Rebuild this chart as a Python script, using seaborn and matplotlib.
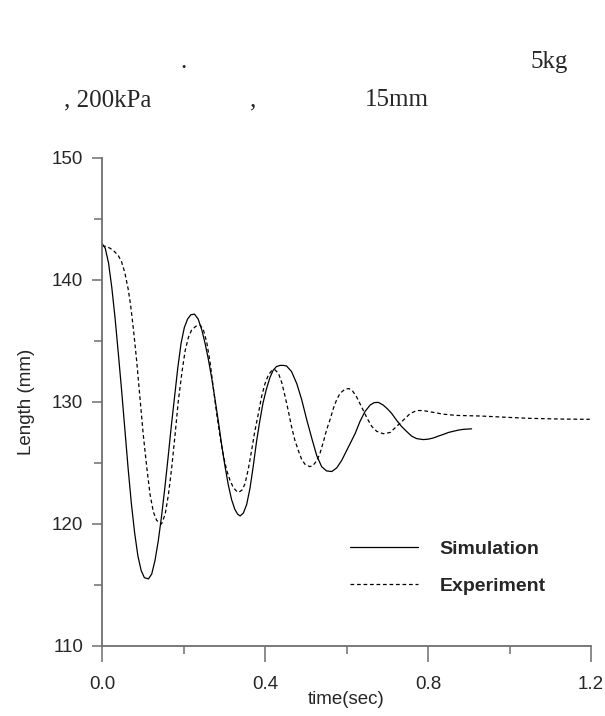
import numpy as np
import pandas as pd
import matplotlib
matplotlib.use("Agg")
import matplotlib.pyplot as plt
from matplotlib.lines import Line2D
from matplotlib.ticker import MultipleLocator
import seaborn as sns

# ---- data ----
sim_t = [0.0, 0.008, 0.016, 0.024, 0.032, 0.040, 0.048, 0.056, 0.064, 0.072, 0.080,
         0.088, 0.096, 0.104, 0.114, 0.122, 0.130, 0.138, 0.146, 0.154, 0.162, 0.170,
         0.178, 0.186, 0.194, 0.202, 0.210, 0.218, 0.227, 0.236, 0.245, 0.253, 0.261,
         0.269, 0.277, 0.286, 0.294, 0.302, 0.310, 0.318, 0.326, 0.333, 0.339, 0.347,
         0.355, 0.363, 0.371, 0.379, 0.387, 0.395, 0.403, 0.412, 0.420, 0.428, 0.437,
         0.445, 0.453, 0.465, 0.478, 0.490, 0.502, 0.515, 0.527, 0.539, 0.551, 0.564,
         0.576, 0.588, 0.600, 0.609, 0.621, 0.633, 0.645, 0.658, 0.668, 0.678, 0.690,
         0.700, 0.710, 0.723, 0.735, 0.747, 0.760, 0.772, 0.788, 0.800, 0.813, 0.825,
         0.838, 0.850, 0.862, 0.875, 0.887, 0.907]
sim_v = [143.0, 142.6, 141.4, 139.4, 136.9, 134.0, 131.0, 127.8, 124.6, 121.7, 119.3,
         117.4, 116.2, 115.6, 115.5, 115.9, 117.0, 118.6, 120.6, 122.9, 125.4, 128.0,
         130.4, 132.8, 134.8, 136.1, 136.8, 137.15, 137.2, 136.8, 135.9, 134.8, 133.5,
         132.0, 130.3, 128.3, 126.4, 124.7, 123.2, 122.0, 121.2, 120.8, 120.66, 120.9,
         121.6, 122.9, 124.7, 126.7, 128.4, 129.9, 131.0, 132.0, 132.6, 132.9, 133.0,
         133.0, 132.95, 132.5, 131.5, 130.2, 128.6, 127.0, 125.6, 124.7, 124.35, 124.3,
         124.6, 125.2, 126.0, 126.6, 127.4, 128.4, 129.2, 129.75, 129.95, 129.97, 129.75,
         129.45, 129.1, 128.5, 128.0, 127.6, 127.2, 127.0, 126.92, 126.95, 127.05, 127.2,
         127.35, 127.5, 127.6, 127.7, 127.76, 127.8]

exp_t = [0.0, 0.010, 0.020, 0.030, 0.040, 0.048, 0.056, 0.064, 0.070, 0.077, 0.085,
         0.093, 0.101, 0.110, 0.118, 0.126, 0.134, 0.146, 0.155, 0.163, 0.171, 0.179,
         0.187, 0.196, 0.204, 0.212, 0.220, 0.230, 0.241, 0.249, 0.257, 0.265, 0.273,
         0.282, 0.290, 0.298, 0.306, 0.314, 0.322, 0.330, 0.336, 0.344, 0.351, 0.359,
         0.367, 0.375, 0.384, 0.392, 0.400, 0.408, 0.416, 0.424, 0.433, 0.441, 0.449,
         0.457, 0.465, 0.473, 0.482, 0.490, 0.498, 0.510, 0.518, 0.527, 0.535, 0.543,
         0.551, 0.560, 0.568, 0.576, 0.584, 0.596, 0.606, 0.615, 0.625, 0.637, 0.650,
         0.662, 0.674, 0.690, 0.707, 0.723, 0.739, 0.756, 0.772, 0.788, 0.813, 0.838,
         0.870, 0.930, 0.990, 1.050, 1.132, 1.197]
exp_v = [142.8, 142.75, 142.6, 142.35, 142.0, 141.5, 140.6, 139.3, 138.0, 136.0, 133.4,
         130.4, 127.4, 124.6, 122.4, 121.0, 120.3, 120.0, 120.8, 122.4, 124.6, 127.2,
         130.0, 132.4, 134.2, 135.3, 135.9, 136.2, 136.3, 135.9, 134.9, 133.3, 131.2,
         128.9, 127.1, 125.6, 124.4, 123.6, 123.0, 122.7, 122.6, 122.8, 123.3, 124.5,
         126.0, 127.6, 129.1, 130.5, 131.5, 132.2, 132.55, 132.65, 132.35, 131.6, 130.5,
         129.3, 128.0, 126.9, 126.0, 125.3, 124.9, 124.7, 124.8, 125.2, 125.8, 126.7,
         127.7, 128.6, 129.5, 130.2, 130.7, 131.05, 131.1, 130.9, 130.4, 129.6, 128.7,
         128.0, 127.6, 127.4, 127.5, 128.0, 128.5, 129.05, 129.3, 129.3, 129.15, 129.0,
         128.9, 128.85, 128.75, 128.66, 128.6, 128.58]

series_labels = ["Simulation", "Experiment"]
x_ticks = [0.0, 0.4, 0.8, 1.2]
y_ticks = [110, 120, 130, 140, 150]
x_label = "time(sec)"
y_label = "Length (mm)"

# ---- drawing ----
sns.set_style("ticks")
plt.rcParams["font.family"] = ["Liberation Sans", "DejaVu Sans"]

fig = plt.figure(figsize=(6.05, 7.16), dpi=100)
ax = fig.add_axes([102 / 605, 1 - 646 / 716, 489 / 605, 488 / 716])

sim_df = pd.DataFrame({"t": sim_t, "v": sim_v})
exp_df = pd.DataFrame({"t": exp_t, "v": exp_v})

sns.lineplot(data=sim_df, x="t", y="v", ax=ax, color="black", linewidth=0.9,
             sort=False, estimator=None)
sns.lineplot(data=exp_df, x="t", y="v", ax=ax, color="black", linewidth=0.9,
             linestyle=(0, (3.0, 2.2)), sort=False, estimator=None)

ax.set_xlim(0, 1.2)
ax.set_ylim(110, 150)
ax.set_xticks(x_ticks)
ax.set_xticklabels([f"{v:.1f}" for v in x_ticks])
ax.set_yticks(y_ticks)
ax.xaxis.set_minor_locator(MultipleLocator(0.2))
ax.yaxis.set_minor_locator(MultipleLocator(5))

gray = "#6e6e6e"
for s in ["top", "right"]:
    ax.spines[s].set_visible(False)
for s in ["left", "bottom"]:
    ax.spines[s].set_color(gray)
    ax.spines[s].set_linewidth(1.3)
ax.tick_params(axis="x", which="major", direction="out", length=11.5, width=1.1,
               color=gray, labelsize=13.5, pad=10)
ax.tick_params(axis="x", which="minor", direction="out", length=6, width=1.1, color=gray)
ax.tick_params(axis="y", which="major", direction="out", length=7.5, width=1.1,
               color=gray, labelsize=13.5, pad=6)
ax.tick_params(axis="y", which="minor", direction="out", length=6, width=1.1, color=gray)

ax.set_xlabel(x_label, fontsize=13.5, labelpad=-1)
ax.set_ylabel(y_label, fontsize=13.5, labelpad=12)

handles = [Line2D([0], [0], color="black", linewidth=0.9),
           Line2D([0], [0], color="black", linewidth=0.9, linestyle=(0, (3.0, 2.2)))]
leg = ax.legend(handles, series_labels, loc="center left",
                bbox_to_anchor=(0.507, 0.16), frameon=False, borderpad=0,
                borderaxespad=0, handlelength=3.5, handletextpad=1.1,
                labelspacing=1.0, prop={"weight": "bold", "size": 14})

# header text (serif)
serif = ["Liberation Serif", "DejaVu Serif"]
def htext(xp, yp, s):
    fig.text(xp / 605, 1 - yp / 716, s, family=serif, fontsize=18,
             ha="left", va="baseline")

htext(180, 68, ".")
htext(530, 68, "5kg")
htext(64, 106, ", 200kPa")
htext(250, 106, ",")
htext(365, 106, "15mm")

fig.savefig("out.png", dpi=100)
